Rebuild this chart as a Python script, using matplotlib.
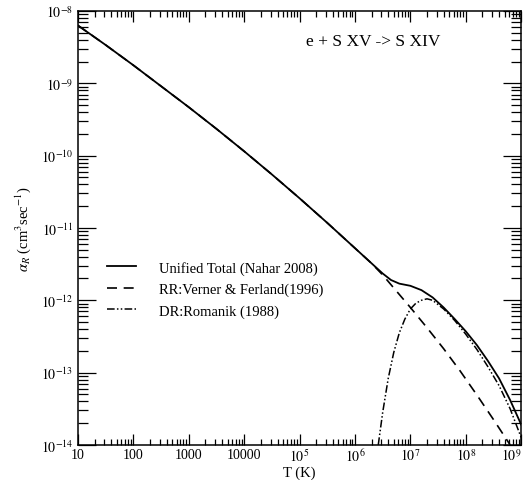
import numpy as np
import matplotlib
matplotlib.use("Agg")
import matplotlib.pyplot as plt
from matplotlib.ticker import LogLocator, FixedLocator, FuncFormatter, NullFormatter

# valores (log10 T, log10 alpha)
logT_total = [1.0, 1.5, 2.0, 2.5, 3.0, 3.5, 4.0, 4.5, 5.0, 5.5, 6.0, 6.3, 6.5, 6.65,
              6.8, 7.0, 7.2, 7.4, 7.6, 7.8, 8.0, 8.2, 8.4, 8.6, 8.8, 9.0]
loga_total = [-8.20, -8.47, -8.75, -9.04, -9.33, -9.63, -9.94, -10.26, -10.59, -10.93,
              -11.28, -11.49, -11.63, -11.72, -11.77, -11.80, -11.86, -11.96, -12.10,
              -12.26, -12.43, -12.62, -12.84, -13.08, -13.38, -13.72]

logT_rr = [1.0, 1.5, 2.0, 2.5, 3.0, 3.5, 4.0, 4.5, 5.0, 5.5, 6.0, 6.3, 6.5, 6.7,
           7.0, 7.3, 7.6, 7.9, 8.2, 8.5, 8.8]
loga_rr = [-8.20, -8.47, -8.75, -9.04, -9.33, -9.63, -9.94, -10.26, -10.59, -10.93,
           -11.28, -11.49, -11.65, -11.83, -12.10, -12.38, -12.67, -12.98, -13.31,
           -13.65, -14.0]

logT_dr = [6.42, 6.5, 6.6, 6.7, 6.8, 6.9, 7.0, 7.1, 7.2, 7.3, 7.4, 7.6, 7.8, 8.0,
           8.2, 8.4, 8.6, 8.8, 9.0]
loga_dr = [-14.0, -13.55, -13.08, -12.72, -12.45, -12.26, -12.12, -12.04, -12.00,
           -11.98, -12.00, -12.12, -12.28, -12.47, -12.68, -12.92, -13.18, -13.50,
           -13.90]

labels = ["Unified Total (Nahar 2008)", "RR:Verner & Ferland(1996)", "DR:Romanik (1988)"]
xtick_labels = ["10", "100", "1000", "10000", r"$10^5$", r"$10^6$", r"$10^7$",
                r"$10^8$", r"$10^9$"]
ytick_exp = [-14, -13, -12, -11, -10, -9, -8]

plt.rcParams['font.family'] = ['Liberation Serif', 'DejaVu Serif']
plt.rcParams['mathtext.fontset'] = 'stix'

fig = plt.figure(figsize=(5.27, 4.81), dpi=100)
ax = fig.add_axes([0.148, 0.073, 0.841, 0.902])

ax.plot(10 ** np.array(logT_rr), 10 ** np.array(loga_rr), color='black', lw=1.2,
        dashes=(6, 4), label=labels[1])
ax.plot(10 ** np.array(logT_dr), 10 ** np.array(loga_dr), color='black', lw=1.1,
        dashes=(5, 1.5, 1, 1.5, 1, 1.5), label=labels[2])
ax.plot(10 ** np.array(logT_total), 10 ** np.array(loga_total), color='black', lw=1.3,
        label=labels[0])

ax.set_xscale('log')
ax.set_yscale('log')
ax.set_xlim(10, 1e9)
ax.set_ylim(1e-14, 1e-8)

ax.xaxis.set_major_locator(FixedLocator([10.0 ** k for k in range(1, 10)]))
ax.xaxis.set_major_formatter(FuncFormatter(lambda v, p: xtick_labels[int(round(np.log10(v))) - 1]))
ax.xaxis.set_minor_locator(LogLocator(base=10, subs=np.arange(2, 10), numticks=20))
ax.xaxis.set_minor_formatter(NullFormatter())
ax.yaxis.set_major_locator(FixedLocator([10.0 ** e for e in ytick_exp]))
ax.yaxis.set_major_formatter(FuncFormatter(lambda v, p: r"$10^{%d}$" % int(round(np.log10(v)))))
ax.yaxis.set_minor_locator(LogLocator(base=10, subs=np.arange(2, 10), numticks=20))
ax.yaxis.set_minor_formatter(NullFormatter())

ax.tick_params(axis='both', which='both', direction='in', top=True, right=True,
               labelsize=10, width=0.9, colors='black')
ax.tick_params(axis='x', which='major', length=8, pad=2)
ax.tick_params(axis='x', which='minor', length=4)
ax.tick_params(axis='y', which='major', length=13)
ax.tick_params(axis='y', which='minor', length=7)
for s in ax.spines.values():
    s.set_linewidth(1.1)

# la última etiqueta del eje x alineada a la derecha para que no se corte
fig.canvas.draw()
ax.get_xticklabels()[-1].set_horizontalalignment('right')

ax.set_xlabel("T (K)", fontsize=10.5)
ax.xaxis.set_label_coords(0.5, -0.047)
ax.set_ylabel(r"$\alpha_R$ (cm$^3$sec$^{-1}$)", fontsize=10.5, labelpad=6)

ax.text(0.665, 0.93, "e + S XV -> S XIV", transform=ax.transAxes, ha='center',
        va='center', fontsize=12.5)

handles, labs = ax.get_legend_handles_labels()
order = [2, 0, 1]
ax.legend([handles[i] for i in order], [labs[i] for i in order],
          loc='upper left', bbox_to_anchor=(0.035, 0.455), frameon=False,
          fontsize=10.5, handlelength=2.0, handletextpad=1.6, labelspacing=0.55)

fig.savefig("out.png", dpi=100)
